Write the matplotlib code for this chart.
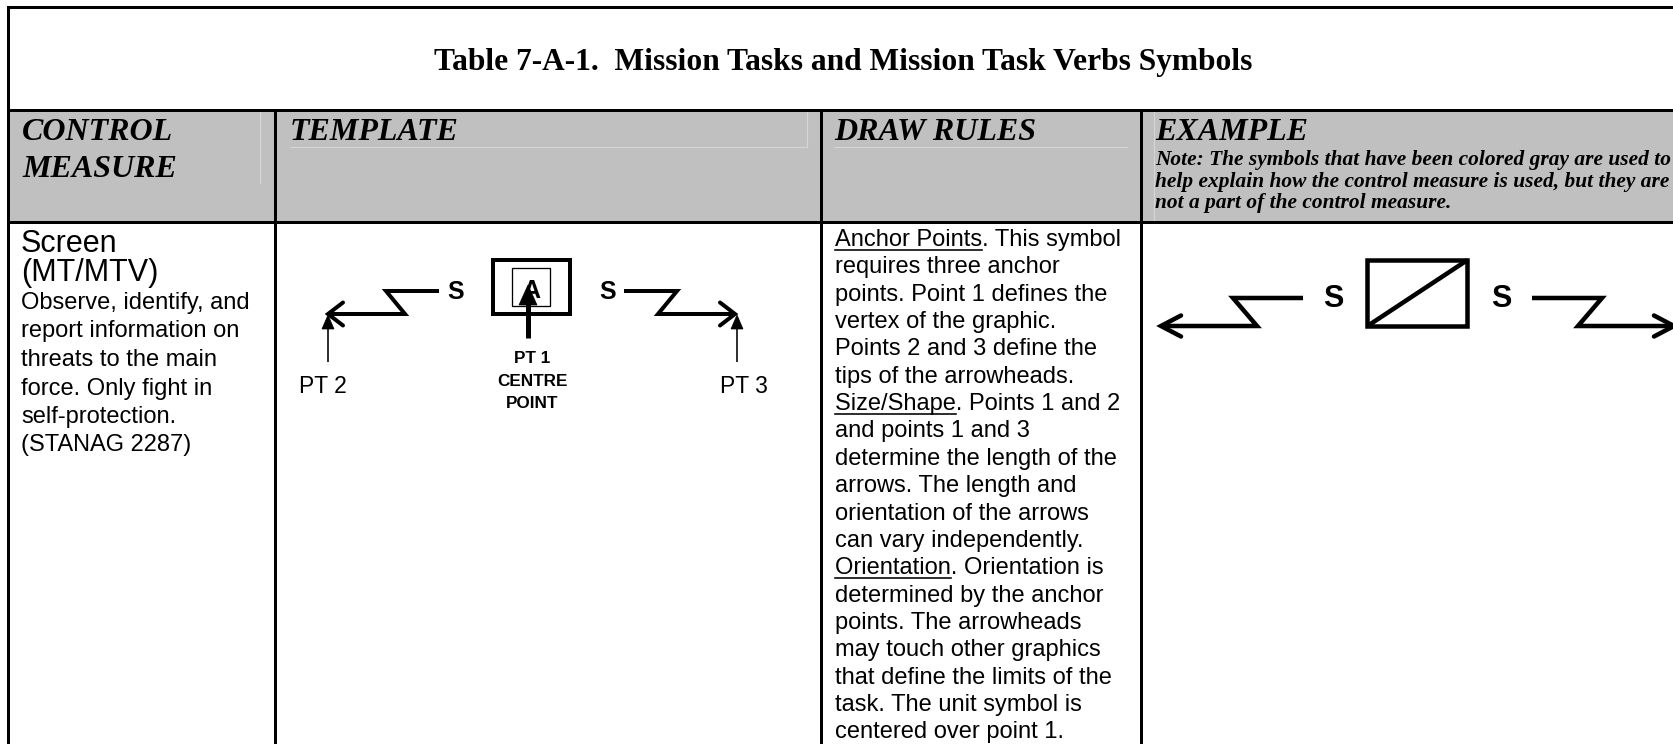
import matplotlib
matplotlib.use('Agg')
import matplotlib.pyplot as plt
from matplotlib.patches import Rectangle, Polygon

# canvas in pixels
W, H = 1674, 744
DPI = 100

# table grid (pixel positions)
col_edges = [8, 275, 821, 1141]
row_edges = [7, 110, 222]
header_gray = '#c0c0c0'
faint = '#d6d6d6'

title = 'Table 7-A-1.  Mission Tasks and Mission Task Verbs Symbols'
header_labels = [['CONTROL', 'MEASURE'], ['TEMPLATE'], ['DRAW RULES'], ['EXAMPLE']]
example_note = ['Note: The symbols that have been colored gray are used to',
                'help explain how the control measure is used, but they are',
                'not a part of the control measure.']

measure_name = ['Screen', '(MT/MTV)']
measure_desc = ['Observe, identify, and',
                'report information on',
                'threats to the main',
                'force. Only fight in',
                'self-protection.',
                '(STANAG 2287)']

# (underlined prefix, rest of line)
draw_rules = [('Anchor Points', '. This symbol'),
              ('', 'requires three anchor'),
              ('', 'points. Point 1 defines the'),
              ('', 'vertex of the graphic.'),
              ('', 'Points 2 and 3 define the'),
              ('', 'tips of the arrowheads.'),
              ('Size/Shape', '. Points 1 and 2'),
              ('', 'and points 1 and 3'),
              ('', 'determine the length of the'),
              ('', 'arrows. The length and'),
              ('', 'orientation of the arrows'),
              ('', 'can vary independently.'),
              ('Orientation', '. Orientation is'),
              ('', 'determined by the anchor'),
              ('', 'points. The arrowheads'),
              ('', 'may touch other graphics'),
              ('', 'that define the limits of the'),
              ('', 'task. The unit symbol is'),
              ('', 'centered over point 1.')]

pt_labels = ['PT 2', 'PT 3']
centre_label = ['PT 1', 'CENTRE', 'POINT']

SANS = 'Liberation Sans'
SERIF = 'Liberation Serif'


def px2pt(p):
    return p * 72.0 / DPI


fig = plt.figure(figsize=(W / DPI, H / DPI), dpi=DPI)
ax = fig.add_axes([0, 0, 1, 1])
ax.set_xlim(0, W)
ax.set_ylim(H, 0)
ax.axis('off')

# header background
ax.add_patch(Rectangle((col_edges[0], row_edges[1]), W - col_edges[0], row_edges[2] - row_edges[1],
                       facecolor=header_gray, edgecolor='none', zorder=0))

# faint artefact lines inside the header
ax.plot([260, 260], [112, 183], color=faint, lw=0.8)
ax.plot([290, 807], [147, 147], color=faint, lw=0.8)
ax.plot([807, 807], [112, 147], color=faint, lw=0.8)
ax.plot([834, 1127], [147, 147], color=faint, lw=0.8)
ax.plot([1154, 1154], [112, 220], color=faint, lw=0.8)

# grid lines
lw_grid = px2pt(3)
for y in row_edges:
    ax.plot([col_edges[0], W], [y, y], color='black', lw=lw_grid, solid_capstyle='projecting')
ax.plot([col_edges[0], col_edges[0]], [row_edges[0], H], color='black', lw=lw_grid)
for x in col_edges[1:]:
    ax.plot([x, x], [row_edges[1], H], color='black', lw=lw_grid)

# title
ax.text(434, 70, title, ha='left', va='baseline', fontsize=22.7, fontweight='bold', family=SERIF)

# header labels
head_x = [22, 290, 834, 1155]
for x, lines in zip(head_x, header_labels):
    for i, s in enumerate(lines):
        ax.text(x, 140 + 37 * i, s, ha='left', va='baseline', fontsize=23,
                fontweight='bold', fontstyle='italic', family=SERIF)
for i, s in enumerate(example_note):
    ax.text(1155, 165 + 21.5 * i, s, ha='left', va='baseline', fontsize=15.4,
            fontweight='bold', fontstyle='italic', family=SERIF)

# control measure column
for i, s in enumerate(measure_name):
    ax.text(21, 252 + 29 * i, s, ha='left', va='baseline', fontsize=22, family=SANS)
for i, s in enumerate(measure_desc):
    ax.text(21, 309 + 28.5 * i, s, ha='left', va='baseline', fontsize=17, family=SANS)

# draw rules column, with underlined headings
fig.canvas.draw()
renderer = fig.canvas.get_renderer()
rx = 835
for i, (under, rest) in enumerate(draw_rules):
    y = 246 + 27.35 * i
    ax.text(rx, y, under + rest, ha='left', va='baseline', fontsize=17, family=SANS)
    if under:
        t = ax.text(rx, y, under, ha='left', va='baseline', fontsize=17, family=SANS, alpha=0)
        wpx = t.get_window_extent(renderer).width
        t.remove()
        ax.plot([rx, rx + wpx], [y + 3.5, y + 3.5], color='black', lw=px2pt(1.6))


def screen_symbol(cx, y_low, y_high, tip, zig_low, zig_high, inner, s_off, box_half, box_top,
                  lw, s_size, head_back, head_half):
    for sgn in (-1, 1):
        ax.plot([cx + sgn * tip, cx + sgn * zig_low, cx + sgn * zig_high, cx + sgn * inner],
                [y_low, y_low, y_high, y_high], color='black', lw=lw,
                solid_joinstyle='miter', solid_capstyle='butt')
        tx = cx + sgn * tip
        ax.plot([tx - sgn * head_back, tx, tx - sgn * head_back],
                [y_low - head_half, y_low, y_low + head_half], color='black', lw=lw,
                solid_joinstyle='miter', solid_capstyle='round')
        ax.text(cx + sgn * s_off, y_high + 1, 'S', ha='center', va='center', fontsize=s_size,
                fontweight='bold', family=SANS)
    ax.add_patch(Rectangle((cx - box_half, box_top), 2 * box_half, y_low - box_top,
                           facecolor='none', edgecolor='black', lw=lw, joinstyle='miter'))


def thin_arrow(x, y0, y1, lw, head_len, head_half):
    ax.plot([x, x], [y0, y1 + head_len - 1], color='black', lw=lw, solid_capstyle='butt')
    ax.add_patch(Polygon([[x - head_half, y1 + head_len], [x, y1], [x + head_half, y1 + head_len]],
                         closed=True, facecolor='black', edgecolor='black', lw=0.5))


# template symbol
tcx = 531.5
screen_symbol(tcx, 314, 291, 203.5, 126.5, 145.5, 92.5, 76, 38.5, 260,
              px2pt(4), 18, 15, 11.5)
ax.add_patch(Rectangle((512, 268), 38, 38, facecolor='none', edgecolor='black', lw=px2pt(1.3)))
ax.text(531, 291, 'A', ha='center', va='center', fontsize=18, fontweight='bold', family=SANS)
thin_arrow(528, 338, 285, px2pt(5), 20, 9)
thin_arrow(328, 362, 315, px2pt(1.6), 14, 6)
thin_arrow(737, 362, 315, px2pt(1.6), 14, 6)
for x, s in zip([323, 744], pt_labels):
    ax.text(x, 393, s, ha='center', va='baseline', fontsize=16.5, family=SANS)
for i, s in enumerate(centre_label):
    ax.text(532, 363 + 22.5 * i, s, ha='center', va='baseline', fontsize=12.3,
            fontweight='bold', family=SANS)

# example symbol
ecx = 1417.5
screen_symbol(ecx, 326, 298, 256.5, 160.5, 184.5, 114.5, 84, 50, 260,
              px2pt(4.5), 22, 20, 10.5)
ax.plot([ecx - 50, ecx + 50], [326, 260], color='black', lw=px2pt(4.5), solid_capstyle='butt')

fig.savefig('out.png', dpi=DPI, facecolor='white')
